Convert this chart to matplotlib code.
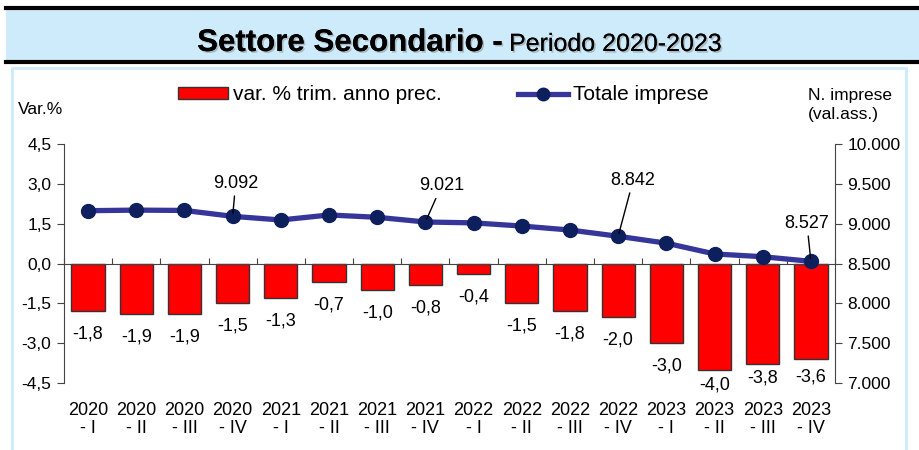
import matplotlib
matplotlib.use("Agg")
import matplotlib.pyplot as plt
import matplotlib.patheffects as pe
from matplotlib.patches import Rectangle, Patch
from matplotlib.lines import Line2D
from matplotlib.ticker import FuncFormatter, FixedLocator

plt.rcParams["font.family"] = ["Liberation Sans", "DejaVu Sans"]

# dati
anni = ["2020", "2020", "2020", "2020", "2021", "2021", "2021", "2021",
        "2022", "2022", "2022", "2022", "2023", "2023", "2023", "2023"]
trimestri = ["I", "II", "III", "IV"] * 4
var_perc = [-1.8, -1.9, -1.9, -1.5, -1.3, -0.7, -1.0, -0.8,
            -0.4, -1.5, -1.8, -2.0, -3.0, -4.0, -3.8, -3.6]
tot_imprese = [9163, 9170, 9166, 9092, 9046, 9109, 9080, 9021,
               9010, 8970, 8920, 8842, 8755, 8620, 8585, 8527]
etichette_linea = [3, 7, 11, 15]

RED = "#FF0000"
LINE = "#35359A"
MARK = "#0D1F5C"
BLUE_BG = "#CDEBFA"

fig = plt.figure(figsize=(9.2, 4.5), dpi=100)

# riquadro titolo
fig.patches.append(Rectangle((0.006, 1 - 62 / 450), 0.994, 54 / 450, transform=fig.transFigure,
                             facecolor=BLUE_BG, edgecolor="none", zorder=0))
for yy in (1 - 8 / 450, 1 - 62 / 450):
    fig.add_artist(Line2D([0.006, 1.0], [yy, yy], transform=fig.transFigure, color="black", lw=3))
# riquadro grafico
fig.patches.append(Rectangle((12 / 920, -0.05), 894 / 920, 1 - 68 / 450 + 0.05, transform=fig.transFigure,
                             facecolor="white", edgecolor=BLUE_BG, lw=2, zorder=0))

shadow = [pe.withSimplePatchShadow(offset=(1.2, -1.2), shadow_rgbFace="#888888", alpha=0.5), pe.Normal()]
fig.text(503 / 920, 1 - 51 / 450, "Settore Secondario -", ha="right", va="baseline",
         fontsize=22.5, fontweight="bold", path_effects=shadow)
fig.text(509 / 920, 1 - 51 / 450, "Periodo 2020-2023", ha="left", va="baseline",
         fontsize=18, path_effects=shadow)

ax = fig.add_axes([64 / 920, 1 - 383 / 450, 771 / 920, 239 / 450])
ax2 = ax.twinx()
ax.set_zorder(1)
ax2.set_zorder(2)
ax.patch.set_visible(False)
ax2.patch.set_visible(False)

x = list(range(len(var_perc)))
ax.bar(x, var_perc, width=0.69, color=RED, edgecolor="#333333", linewidth=1, zorder=2)
ax.set_xlim(-0.5, len(x) - 0.5)
ax.set_ylim(-4.5, 4.5)
ax.set_yticks([-4.5, -3.0, -1.5, 0.0, 1.5, 3.0, 4.5])
ax.yaxis.set_major_formatter(FuncFormatter(lambda v, p: f"{v:.1f}".replace(".", ",")))
ax.tick_params(axis="y", direction="out", length=5, labelsize=12.5, pad=4, color="#444444")

ax.spines["top"].set_visible(False)
ax.spines["right"].set_visible(False)
ax.spines["bottom"].set_position(("data", 0))
ax.spines["bottom"].set_color("#444444")
ax.spines["left"].set_color("#444444")
ax.xaxis.set_major_locator(FixedLocator([i + 0.5 for i in range(-1, len(x))]))
ax.tick_params(axis="x", direction="in", length=4, labelbottom=False, color="#444444")

for i, v in enumerate(var_perc):
    gap = {13: 15, 14: 14, 15: 18}.get(i, 23)
    ax.annotate(f"{v:.1f}".replace(".", ","), (i, v), xytext=(0, -gap), textcoords="offset pixels",
                ha="center", va="center", fontsize=13)

for i, (a, q) in enumerate(zip(anni, trimestri)):
    ax.annotate(f"{a}\n- {q}", (i, 0), xycoords=("data", "axes fraction"), xytext=(0, -19),
                textcoords="offset pixels", ha="center", va="top", fontsize=13, linespacing=1.05)

ax2.plot(x, tot_imprese, color=LINE, lw=3.8, marker="o", markersize=10,
         markerfacecolor=MARK, markeredgecolor=MARK, zorder=3)
ax2.set_ylim(7000, 10000)
ax2.set_yticks([7000, 7500, 8000, 8500, 9000, 9500, 10000])
ax2.yaxis.set_major_formatter(FuncFormatter(lambda v, p: f"{int(v):,}".replace(",", ".")))
ax2.tick_params(axis="y", direction="out", length=5, labelsize=12.5, pad=4, color="#444444")
for s in ("top", "left", "bottom"):
    ax2.spines[s].set_visible(False)
ax2.spines["right"].set_color("#444444")

offs = {3: (3, 33), 7: (16, 36), 11: (15, 56), 15: (-4, 38)}
for i in etichette_linea:
    v = tot_imprese[i]
    ax2.annotate(f"{v:,}".replace(",", "."), (i, v), xytext=offs[i], textcoords="offset pixels",
                 ha="center", va="center", fontsize=13,
                 arrowprops=dict(arrowstyle="-", color="black", lw=1, shrinkA=1, shrinkB=2))

fig.text(18 / 920, 1 - 110 / 450, "Var.%", ha="left", va="center", fontsize=12.5)
fig.text(808 / 920, 1 - 105 / 450, "N. imprese\n(val.ass.)", ha="left", va="center",
         fontsize=12.5, linespacing=1.3)

handles = [Patch(facecolor=RED, edgecolor="#333333", lw=1),
           Line2D([], [], color=LINE, lw=3.8, marker="o", markersize=9,
                  markerfacecolor=MARK, markeredgecolor=MARK)]
fig.legend(handles, ["var. % trim. anno prec.", "Totale imprese"], ncol=2,
           loc="center", bbox_to_anchor=(443 / 920, 1 - 95 / 450), frameon=False,
           fontsize=15, handlelength=2.4, handleheight=0.5, handletextpad=0.25,
           columnspacing=3.65, borderpad=0)

fig.savefig("out.png", dpi=100, facecolor="white")
